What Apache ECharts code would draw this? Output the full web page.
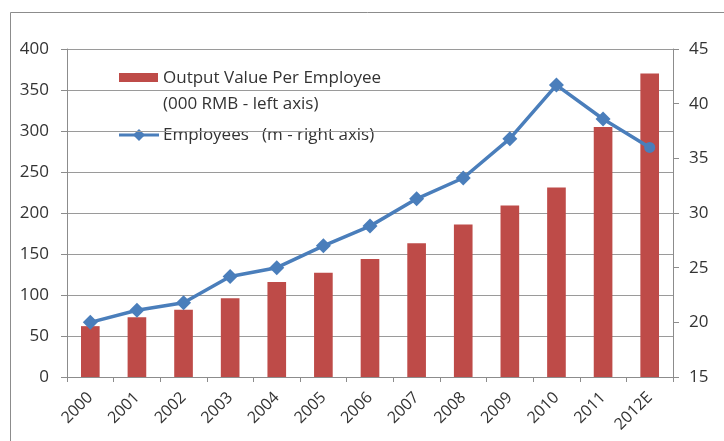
<!DOCTYPE html>
<html>
<head>
<meta charset="utf-8">
<script src="https://cdn.jsdelivr.net/npm/echarts@6/dist/echarts.min.js"></script>
<style>
  html, body { margin: 0; padding: 0; background: #fff; }
  #chart { width: 724px; height: 441px; }
</style>
</head>
<body>
<div id="chart"></div>
<script>
// Years on the category axis
const years = ['2000', '2001', '2002', '2003', '2004', '2005', '2006', '2007', '2008', '2009', '2010', '2011', '2012E'];
// Output value per employee, thousand RMB (left axis)
const outputPerEmployee = [62, 73, 82, 96, 116, 127, 144, 163, 186, 209, 231, 305, 370];
// Employees, millions (right axis)
const employees = [20.0, 21.1, 21.8, 24.2, 25.0, 27.0, 28.8, 31.3, 33.2, 36.8, 41.7, 38.6, 36.0];

const barName = 'Output Value Per Employee (000 RMB - left axis)';
const lineName = 'Employees (m - right axis)';

const FONT = '"Open Sans", "Liberation Sans", sans-serif';
const TEXT = '#333333';
const AXIS = '#8c8c8c';
const BAR = '#be4b48';
const LINE = '#4a7ebb';

const chart = echarts.init(document.getElementById('chart'), null, { renderer: 'canvas' });

const lineData = employees.map((v, i) =>
  i === employees.length - 1 ? { value: v, symbol: 'circle', symbolSize: 11 } : v
);

chart.setOption({
  animation: false,
  backgroundColor: '#fff',
  textStyle: { fontFamily: FONT },
  grid: { left: 67, right: 51, top: 49, bottom: 64 },
  xAxis: {
    type: 'category',
    data: years,
    boundaryGap: true,
    axisLine: { lineStyle: { color: AXIS, width: 1 } },
    axisTick: { show: true, alignWithLabel: false, length: 5, lineStyle: { color: AXIS } },
    axisLabel: { rotate: 45, color: TEXT, fontSize: 16, fontFamily: FONT, margin: 18, interval: 0 }
  },
  yAxis: [
    {
      type: 'value',
      min: 0, max: 400, interval: 50,
      axisLine: { show: true, lineStyle: { color: AXIS } },
      axisTick: { show: true, inside: false, length: 6, lineStyle: { color: AXIS } },
      axisLabel: { color: TEXT, fontSize: 17, fontFamily: FONT, margin: 18 },
      splitLine: { show: true, lineStyle: { color: '#9a9a9a', width: 1 } }
    },
    {
      type: 'value',
      min: 15, max: 45, interval: 5,
      position: 'right',
      axisLine: { show: true, lineStyle: { color: AXIS } },
      axisTick: { show: true, inside: false, length: 6, lineStyle: { color: AXIS } },
      axisLabel: { color: TEXT, fontSize: 17, fontFamily: FONT, margin: 16 },
      splitLine: { show: false }
    }
  ],
  series: [
    {
      name: barName,
      type: 'bar',
      yAxisIndex: 0,
      data: outputPerEmployee,
      barWidth: '40%',
      itemStyle: { color: BAR },
      z: 2
    },
    {
      name: lineName,
      type: 'line',
      yAxisIndex: 1,
      data: lineData,
      symbol: 'diamond',
      symbolSize: 15,
      showSymbol: true,
      lineStyle: { color: LINE, width: 3.5 },
      itemStyle: { color: LINE },
      z: 3
    }
  ],
  graphic: [
    // outer frame
    {
      type: 'rect', z: 0, silent: true,
      shape: { x: 10.5, y: 12.5, width: 800, height: 500 },
      style: { fill: 'none', stroke: '#8c8c8c', lineWidth: 1 }
    },
    // legend box
    {
      type: 'group', left: 88, top: 62, z: 1,
      children: [
        { type: 'rect', shape: { x: 0, y: 0, width: 332, height: 126 }, style: { fill: '#fff' } },
        { type: 'rect', shape: { x: 31, y: 11, width: 39, height: 9 }, style: { fill: BAR } },
        { type: 'text', x: 75, y: 16, style: { text: 'Output Value Per Employee', fill: TEXT, font: '17px ' + FONT, verticalAlign: 'middle' } },
        { type: 'text', x: 75, y: 42, style: { text: '(000 RMB - left axis)', fill: TEXT, font: '17px ' + FONT, verticalAlign: 'middle' } },
        { type: 'line', shape: { x1: 31, y1: 73, x2: 71, y2: 73 }, style: { stroke: LINE, lineWidth: 3 } },
        { type: 'polygon', shape: { points: [[51, 67], [57, 73], [51, 79], [45, 73]] }, style: { fill: LINE } },
        { type: 'text', x: 75, y: 73, style: { text: 'Employees   (m - right axis)', fill: TEXT, font: '17px ' + FONT, verticalAlign: 'middle' } }
      ]
    }
  ]
});
</script>
</body>
</html>
